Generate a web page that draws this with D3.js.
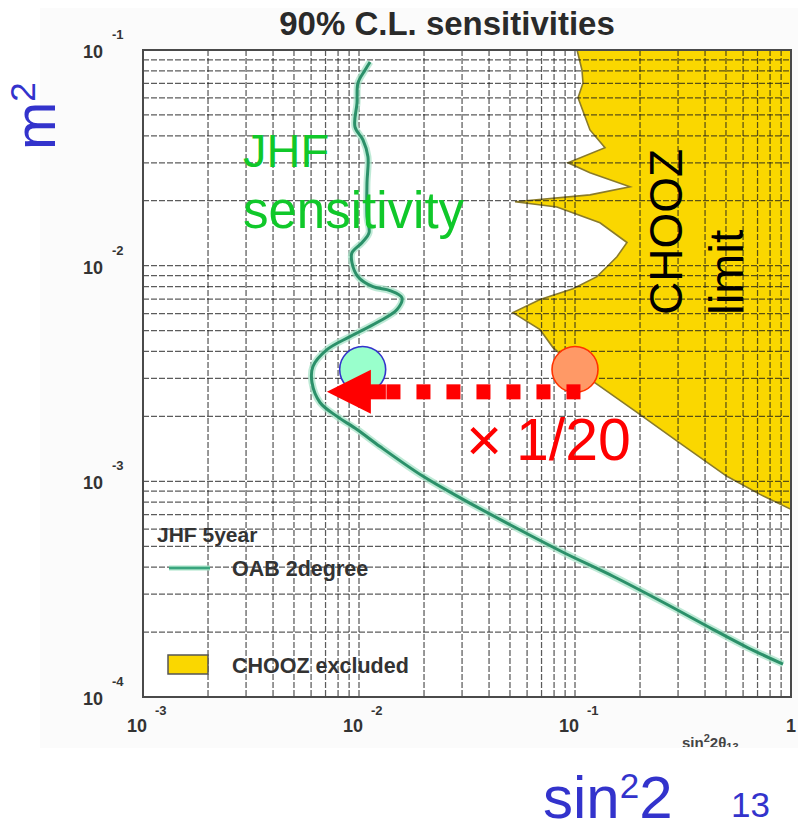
<!DOCTYPE html>
<html>
<head>
<meta charset="utf-8">
<script src="https://cdn.jsdelivr.net/npm/d3@7"></script>
<style>
  html, body { margin: 0; padding: 0; background: #fff; }
  svg { display: block; }
  text { font-family: "Liberation Sans", Arial, Helvetica, sans-serif; }
</style>
</head>
<body>
<svg id="chart" width="798" height="821"></svg>
<script>
// ---- data ----
// JHF 5-year sensitivity contour (OAB 2 degree): sin^2 2θ13 vs Δm^2 (eV^2)
const jhfSin2 = [0.01125, 0.01067, 0.00989, 0.00979, 0.00958, 0.01043, 0.0110, 0.01089, 0.01089, 0.01113,
                 0.01032, 0.00928, 0.00928, 0.00989, 0.01161, 0.01392, 0.0158, 0.0150, 0.01212, 0.00908,
                 0.00711, 0.00612, 0.00606, 0.00660, 0.00791, 0.00979, 0.01251, 0.0198, 0.0303, 0.0516,
                 0.0880, 0.150, 0.2555, 0.435, 0.626, 0.918];
const jhfDm2  = [0.0880, 0.0808, 0.0703, 0.0568, 0.0440, 0.0383, 0.0320, 0.0242, 0.01686, 0.01422,
                 0.01278, 0.01149, 0.01032, 0.00889, 0.00799, 0.00766, 0.00711, 0.00626, 0.00545, 0.00469,
                 0.00408, 0.00341, 0.00287, 0.00232, 0.00200, 0.00174, 0.00145, 0.001055, 0.000825, 0.000619,
                 0.000469, 0.000363, 0.000275, 0.000206, 0.000170, 0.000142];

// CHOOZ exclusion boundary (region to the right is excluded)
const choozSin2 = [0.1022, 0.1077, 0.1089, 0.1033, 0.1173, 0.1377, 0.0928, 0.1173, 0.1797, 0.1173,
                   0.0528, 0.0825, 0.1305, 0.1741, 0.1564, 0.1406, 0.1264, 0.0979, 0.0689, 0.0516,
                   0.0689, 0.0791, 0.1198, 0.1936, 0.313, 0.505, 0.719, 1.0];
const choozDm2  = [0.1, 0.0808, 0.0703, 0.0600, 0.0426, 0.0352, 0.0300, 0.0270, 0.0232, 0.0213,
                   0.0198, 0.0187, 0.0158, 0.0128, 0.0110, 0.00989, 0.00889, 0.00782, 0.00696, 0.00606,
                   0.00505, 0.00417, 0.00293, 0.00209, 0.00148, 0.001055, 0.000870, 0.000742];

// axis decades
const xDecades = [1e-3, 1e-2, 1e-1, 1];
const xExponents = ["-3", "-2", "-1", null];
const yDecades = [1e-1, 1e-2, 1e-3, 1e-4];
const yExponents = ["-1", "-2", "-3", "-4"];

// annotation: improvement from the CHOOZ limit to the JHF reach
const choozPoint = [0.1, 3.3e-3];
const jhfPoint = [0.0104, 3.3e-3];
const arrowDm2 = 2.6e-3;
const arrowTip = 0.0071;
const arrowTail = 0.106;

// ---- layout ----
const svg = d3.select("#chart");
const L = 143, R = 791, T = 50, B = 697;
const x = d3.scaleLog().domain([1e-3, 1]).range([L, R]);
const y = d3.scaleLog().domain([1e-4, 1e-1]).range([B, T]);

// faint backdrop of the plot figure
svg.append("rect").attr("x", 40).attr("y", 8).attr("width", 758).attr("height", 740)
  .attr("fill", "#fbfbfb");
svg.append("rect").attr("x", L).attr("y", T).attr("width", R - L).attr("height", B - T)
  .attr("fill", "#ffffff");

// clip regions
const defs = svg.append("defs");
defs.append("clipPath").attr("id", "plotClip")
  .append("rect").attr("x", L).attr("y", T).attr("width", R - L).attr("height", B - T);
defs.append("clipPath").attr("id", "figClip")
  .append("rect").attr("x", 0).attr("y", 0).attr("width", 798).attr("height", 747);

const plot = svg.append("g").attr("clip-path", "url(#plotClip)");

// CHOOZ excluded area
const choozPts = choozSin2.map((s, i) => [x(s), y(choozDm2[i])]);
const area = choozPts.concat([[x(1), y(1e-1)]]);
plot.append("path")
  .attr("d", d3.line()(area) + "Z")
  .attr("fill", "#fad700");
plot.append("path")
  .attr("d", d3.line()(choozPts))
  .attr("fill", "none").attr("stroke", "#8a7b2a").attr("stroke-width", 1.6);

// log grid (1..9 in each decade)
const gx = x.ticks();
const gy = y.ticks();
const gridStyle = sel => sel
  .attr("stroke", "#1c1c1c").attr("stroke-opacity", 0.72).attr("stroke-width", 1.25)
  .attr("stroke-dasharray", "6,2");
plot.append("g").selectAll("line").data(gx).join("line")
  .attr("x1", d => x(d)).attr("x2", d => x(d)).attr("y1", T).attr("y2", B)
  .call(gridStyle);
plot.append("g").selectAll("line").data(gy).join("line")
  .attr("y1", d => y(d)).attr("y2", d => y(d)).attr("x1", L).attr("x2", R)
  .call(gridStyle);

// JHF sensitivity curve
const jhfLine = d3.line().curve(d3.curveCatmullRom.alpha(0.5))
  .x((d, i) => x(jhfSin2[i])).y((d, i) => y(jhfDm2[i]));
plot.append("path").attr("d", jhfLine(jhfSin2))
  .attr("fill", "none").attr("stroke", "#a8e3c8").attr("stroke-width", 7)
  .attr("stroke-opacity", 0.75).attr("stroke-linejoin", "round");
plot.append("path").attr("d", jhfLine(jhfSin2))
  .attr("fill", "none").attr("stroke", "#2b9069").attr("stroke-width", 3)
  .attr("stroke-linejoin", "round");

// frame
svg.append("rect").attr("x", L).attr("y", T).attr("width", R - L).attr("height", B - T)
  .attr("fill", "none").attr("stroke", "#4a4a4a").attr("stroke-width", 2);

// title
svg.append("text").attr("x", 447).attr("y", 35).attr("text-anchor", "middle")
  .attr("font-size", 33).attr("font-weight", "bold").attr("fill", "#2a2a2a")
  .text("90% C.L. sensitivities");

// y tick labels
yDecades.forEach((v, i) => {
  svg.append("text").attr("x", 103).attr("y", y(v) + 8).attr("text-anchor", "end")
    .attr("font-size", 18).attr("font-weight", "bold").attr("fill", "#333").text("10");
  svg.append("text").attr("x", 112).attr("y", y(v) - 11)
    .attr("font-size", 13).attr("font-weight", "bold").attr("fill", "#333").text(yExponents[i]);
});

// x tick labels
xDecades.forEach((v, i) => {
  if (xExponents[i] === null) {
    svg.append("text").attr("x", x(v)).attr("y", 732).attr("text-anchor", "middle")
      .attr("font-size", 18).attr("font-weight", "bold").attr("fill", "#333").text("1");
  } else {
    svg.append("text").attr("x", x(v) + 4).attr("y", 732).attr("text-anchor", "end")
      .attr("font-size", 18).attr("font-weight", "bold").attr("fill", "#333").text("10");
    svg.append("text").attr("x", x(v) + 12).attr("y", 715)
      .attr("font-size", 13).attr("font-weight", "bold").attr("fill", "#333").text(xExponents[i]);
  }
});

// small axis title of the plot figure
const xt = svg.append("text").attr("x", 682).attr("y", 748).attr("clip-path", "url(#figClip)")
  .attr("font-size", 15).attr("font-weight", "bold").attr("fill", "#444");
xt.append("tspan").text("sin");
xt.append("tspan").attr("dy", -6).attr("font-size", 11).text("2");
xt.append("tspan").attr("dy", 6).text("2θ");
xt.append("tspan").attr("dy", 3).attr("font-size", 11).text("13");

// legend
svg.append("text").attr("x", 157).attr("y", 542).attr("font-size", 21).attr("font-weight", "bold")
  .attr("fill", "#333").text("JHF 5year");
svg.append("line").attr("x1", 169).attr("x2", 210).attr("y1", 568).attr("y2", 568)
  .attr("stroke", "#a8e3c8").attr("stroke-width", 5);
svg.append("line").attr("x1", 169).attr("x2", 210).attr("y1", 568).attr("y2", 568)
  .attr("stroke", "#3aa57e").attr("stroke-width", 2.5);
svg.append("text").attr("x", 232).attr("y", 576).attr("font-size", 21.5).attr("font-weight", "bold")
  .attr("fill", "#333").text("OAB 2degree");
svg.append("rect").attr("x", 168).attr("y", 655).attr("width", 40).attr("height", 19)
  .attr("fill", "#fad700").attr("stroke", "#555").attr("stroke-width", 1.5);
svg.append("text").attr("x", 232).attr("y", 673).attr("font-size", 21.5).attr("font-weight", "bold")
  .attr("fill", "#333").text("CHOOZ excluded");

// markers
svg.append("circle").attr("cx", x(jhfPoint[0])).attr("cy", y(jhfPoint[1])).attr("r", 23)
  .attr("fill", "#99ffcc").attr("stroke", "#3333cc").attr("stroke-width", 1.6);
svg.append("circle").attr("cx", x(choozPoint[0])).attr("cy", y(choozPoint[1])).attr("r", 23)
  .attr("fill", "#ff9966").attr("stroke", "#ff3300").attr("stroke-width", 1.6);

// dotted arrow
const ay = y(arrowDm2), tipX = x(arrowTip), tailX = x(arrowTail);
const arrow = svg.append("g").attr("fill", "#ff0000");
arrow.append("path")
  .attr("d", `M${tipX},${ay} L${tipX + 44},${ay - 22} L${tipX + 44},${ay + 22} Z`);
arrow.append("rect").attr("x", tipX + 43).attr("y", ay - 7.5).attr("width", 16).attr("height", 15);
d3.range(7).forEach(i => {
  arrow.append("rect").attr("x", tailX - 14 - 30 * i).attr("y", ay - 7.5)
    .attr("width", 14).attr("height", 15);
});

// overlay labels
svg.append("text").attr("x", 243).attr("y", 167).attr("font-size", 47).attr("fill", "#10c82a").text("JHF");
svg.append("text").attr("x", 243).attr("y", 228).attr("font-size", 51).attr("fill", "#10c82a").text("sensitivity");

svg.append("text").attr("transform", "translate(682,315) rotate(-90)")
  .attr("font-size", 46).attr("fill", "#000").text("CHOOZ");
svg.append("text").attr("transform", "translate(743,315) rotate(-90)")
  .attr("font-size", 48).attr("fill", "#000").text("limit");

svg.append("text").attr("x", 466).attr("y", 461).attr("font-size", 62).attr("fill", "#ff0000").text("×");
svg.append("text").attr("x", 516).attr("y", 460).attr("font-size", 59).attr("fill", "#ff0000").text("1/20");

// big axis labels
const ml = svg.append("text").attr("transform", "translate(55,150) rotate(-90)")
  .attr("font-size", 58).attr("fill", "#3333cc");
ml.append("tspan").text("m");
ml.append("tspan").attr("dy", -20).attr("font-size", 35).text("2");

const sl = svg.append("text").attr("x", 543).attr("y", 818).attr("font-size", 60).attr("fill", "#3333cc");
sl.append("tspan").text("sin");
sl.append("tspan").attr("dy", -20).attr("font-size", 35).text("2");
sl.append("tspan").attr("dy", 20).text("2");
svg.append("text").attr("x", 731).attr("y", 817).attr("font-size", 35).attr("fill", "#3333cc").text("13");
</script>
</body>
</html>
